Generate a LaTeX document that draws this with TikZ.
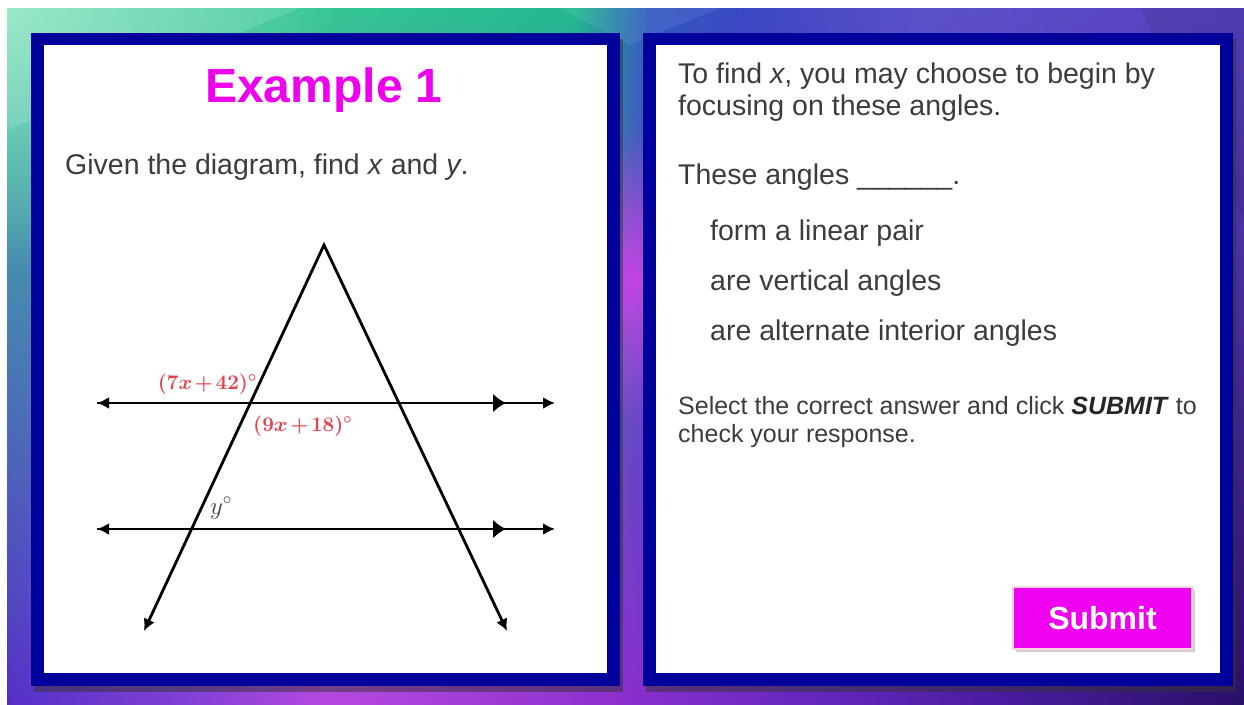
\documentclass[tikz,border=0pt]{standalone}
\usepackage[no-math]{fontspec}
\setmainfont{Liberation Sans}
\usepackage{xcolor}
\usepackage{tikz}
\usetikzlibrary{arrows.meta, positioning, shadows, fadings}
\definecolor{panelblue}{RGB}{0,0,155}
\definecolor{titlemag}{RGB}{238,0,238}
\definecolor{btnmag}{RGB}{240,0,240}
\definecolor{btnedge}{RGB}{248,212,226}
\definecolor{textgray}{RGB}{60,60,60}
\definecolor{labelred}{RGB}{232,64,76}
\definecolor{bgmint}{RGB}{140,230,192}
\definecolor{bgmagenta}{RGB}{196,70,228}
\newcommand{\angtext}[1]{\ensuremath{\medmuskip=2mu\relax#1}}
% background colour stops, left to right
\pgfdeclarehorizontalshading{bgtop}{100bp}{%
    color(0bp)=(rgb,255:red,60;green,195;blue,160);
    color(25bp)=(rgb,255:red,60;green,195;blue,160);
    color(37bp)=(rgb,255:red,55;green,200;blue,150);
    color(48bp)=(rgb,255:red,35;green,184;blue,144);
    color(51bp)=(rgb,255:red,48;green,90;blue,192);
    color(55bp)=(rgb,255:red,60;green,72;blue,196);
    color(62bp)=(rgb,255:red,92;green,82;blue,200);
    color(75bp)=(rgb,255:red,88;green,66;blue,192);
    color(100bp)=(rgb,255:red,88;green,66;blue,192)}
\pgfdeclarehorizontalshading{bgbot}{100bp}{%
    color(0bp)=(rgb,255:red,85;green,48;blue,200);
    color(25bp)=(rgb,255:red,85;green,48;blue,200);
    color(33bp)=(rgb,255:red,136;green,64;blue,216);
    color(38bp)=(rgb,255:red,184;green,72;blue,224);
    color(49bp)=(rgb,255:red,144;green,48;blue,208);
    color(57bp)=(rgb,255:red,104;green,40;blue,192);
    color(65bp)=(rgb,255:red,74;green,28;blue,160);
    color(75bp)=(rgb,255:red,42;green,16;blue,104);
    color(100bp)=(rgb,255:red,42;green,16;blue,104)}
\tikzfading[name=fadeup, top color=transparent!100, middle color=transparent!70, bottom color=transparent!0]
\tikzfading[name=softglow, inner color=transparent!0, outer color=transparent!100]
\tikzset{
    panelframe/.style={rectangle, fill=panelblue, inner sep=0pt,
                       minimum width=589pt, minimum height=653pt,
                       drop shadow={shadow xshift=3pt, shadow yshift=-6pt, opacity=.5, fill=black!80}},
    panelcard/.style={rectangle, fill=white, inner sep=0pt,
                      minimum width=563pt, minimum height=628pt},
    titletext/.style={font=\fontsize{48}{56}\selectfont\bfseries, text=titlemag,
                      anchor=base, inner sep=0pt},
    bodytext/.style={font=\fontsize{28.5}{34}\selectfont, text=textgray,
                     anchor=base west, inner sep=0pt},
    choice/.style={bodytext, text height=21pt, text depth=6pt},
    notetext/.style={font=\fontsize{25}{29}\selectfont, text=textgray,
                     anchor=base west, inner sep=0pt},
    submitbtn/.style={rectangle, fill=btnmag, draw=btnedge, line width=2pt,
                      minimum width=179pt, minimum height=62pt, inner sep=0pt,
                      font=\fontsize{32}{38}\selectfont\bfseries, text=white,
                      drop shadow={shadow xshift=3pt, shadow yshift=-3pt, opacity=.3, fill=black!60}},
    geoline/.style={line width=2.8pt, draw=black, line join=miter},
    anglelbl/.style={font=\fontsize{22.5}{27}\selectfont\boldmath, text=labelred, inner sep=0pt},
    geotip/.tip={Latex[length=12pt, width=12pt]},
    parmark/.tip={Latex[length=13pt, width=19pt]},
}
\begin{document}
\begin{tikzpicture}[x=1pt, y=-1pt]
    \useasboundingbox[fill=white] (0,0) rectangle (1244,704);
    % backdrop
    \begin{scope}
        \clip (7,8) rectangle (1244,704);
        \shade[shading=bgtop] (7,8) rectangle (1244,704);
        \shade[shading=bgbot, path fading=fadeup] (7,8) rectangle (1244,704);
        \fill[bgmint, path fading=softglow] (7,8) ellipse [x radius=330, y radius=260];
        \fill[bgmagenta, path fading=softglow] (632,280) ellipse [x radius=70, y radius=150];
        \fill[white, opacity=.12] (7,8) -- (300,8) -- (7,130) -- cycle;
        \fill[white, opacity=.07] (560,8) -- (720,8) -- (630,45) -- cycle;
        \fill[black, opacity=.08] (1140,8) -- (1244,8) -- (1244,220) -- cycle;
    \end{scope}

    % panels
    \node[panelframe] (leftframe) at (325.5,359.5) {};
    \node[panelcard] (leftcard) at (325.5,359) {};
    \node[panelframe, minimum width=590pt] (rightframe) at (938,359.5) {};
    \node[panelcard, minimum width=564pt] (rightcard) at (938,359) {};

    % left panel text
    \node[titletext] (title) at (324,102) {Example 1};
    \node[bodytext] (task) at (65,174) {Given the diagram, find \textit{x} and \textit{y}.};

    % the figure
    \coordinate (apex) at (324,245);
    \coordinate (lfoot) at (144,631);
    \coordinate (rfoot) at (507,631);
    \coordinate (topW) at (97,403);
    \coordinate (topE) at (555,403);
    \coordinate (topM) at (506,403);
    \coordinate (botW) at (97,529);
    \coordinate (botE) at (555,529);
    \coordinate (botM) at (506,529);
    \draw[geoline, geotip-geotip] (lfoot) -- (apex) -- (rfoot);
    \draw[geoline, geotip-geotip] (topW) -- (topE);
    \draw[geoline, -parmark] (topW) -- (topM);
    \draw[geoline, geotip-geotip] (botW) -- (botE);
    \draw[geoline, -parmark] (botW) -- (botM);
    \node[anglelbl, anchor=base east] (lblA) at (257,389) {\angtext{(7x+42)^\circ}};
    \node[anglelbl, anchor=base west] (lblB) at (253,431) {\angtext{(9x+18)^\circ}};
    \node[anglelbl, text=textgray, font=\fontsize{24}{28}\selectfont, anchor=base west] (lblY) at (210,514) {\angtext{y^\circ}};

    % right panel text
    \node[bodytext] (hint1) at (678,83) {To find \textit{x}, you may choose to begin by};
    \node[bodytext] (hint2) at (678,115) {focusing on these angles.};
    \node[bodytext] (prompt) at (678,184) {These angles \_\_\_\_\_\_.};
    \node[choice] (optA) at (710,240) {form a linear pair};
    \node[choice, below right=23pt and 0pt of optA.south west] (optB) {are vertical angles};
    \node[choice, below right=23pt and 0pt of optB.south west] (optC) {are alternate interior angles};
    \node[notetext] (note1) at (678,414) {Select the correct answer and click \textcolor{black!85}{\textbf{\textit{SUBMIT}}} to};
    \node[notetext] (note2) at (678,442) {check your response.};
    \node[submitbtn] (submit) at (1102.5,618) {Submit};
\end{tikzpicture}
\end{document}
